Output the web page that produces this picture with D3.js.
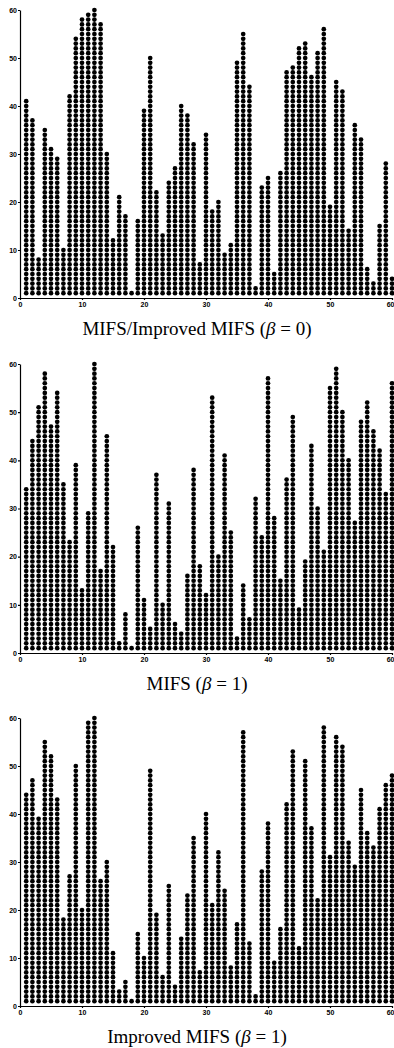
<!DOCTYPE html>
<html>
<head>
<meta charset="utf-8">
<script src="https://cdn.jsdelivr.net/npm/d3@7"></script>
<style>
  body { margin: 0; background: #fff; }
  .axis path, .axis line { stroke: #000; stroke-width: 1.2; }
  .axis text { font-family: 'Liberation Sans', Arial, sans-serif; font-weight: bold; font-size: 7px; fill: #000; }
  .title { font-family: 'Liberation Serif', 'Times New Roman', serif; font-size: 19px; fill: #000; }
</style>
</head>
<body>
<svg width="394" height="1048"></svg>
<script>
const xTicks = [0, 10, 20, 30, 40, 50, 60];
const yTicks = [0, 10, 20, 30, 40, 50, 60];

// selected-feature counts for columns 1..60
const beta0 = [41, 37, 8, 35, 31, 29, 10, 42, 54, 58, 59, 60, 57, 30, 12, 21, 17, 1, 16, 39,
  50, 22, 13, 24, 27, 40, 38, 32, 7, 34, 18, 20, 9, 11, 49, 55, 44, 2, 23, 25,
  5, 26, 47, 48, 52, 53, 46, 51, 56, 19, 45, 43, 14, 36, 33, 6, 3, 15, 28, 4];
const mifs1 = [34, 44, 51, 58, 47, 54, 35, 23, 39, 13, 29, 60, 17, 45, 22, 2, 8, 1, 26, 11,
  5, 37, 10, 31, 6, 4, 16, 38, 18, 12, 53, 20, 41, 25, 3, 14, 7, 32, 24, 57,
  28, 15, 36, 49, 9, 19, 43, 30, 21, 55, 59, 50, 40, 27, 48, 52, 46, 42, 33, 56];
const improved1 = [44, 47, 39, 55, 52, 43, 18, 27, 50, 20, 59, 60, 26, 30, 11, 3, 5, 1, 15, 10,
  49, 19, 6, 25, 4, 14, 23, 35, 7, 40, 21, 32, 24, 8, 17, 57, 13, 2, 28, 38,
  9, 16, 42, 53, 12, 51, 37, 22, 58, 31, 56, 54, 34, 29, 45, 36, 33, 41, 46, 48];

const panels = [
  {values: beta0, name: 'MIFS/Improved MIFS (', top: 10, bottom: 298},
  {values: mifs1, name: 'MIFS (', top: 364, bottom: 653},
  {values: improved1, name: 'Improved MIFS (', top: 718, bottom: 1006}
];
const betaVal = ['0', '1', '1'];

const svg = d3.select('svg');
svg.append('rect').attr('width', 394).attr('height', 1048).attr('fill', '#fff');

const x = d3.scaleLinear().domain([0, 60]).range([20, 392]);

panels.forEach((p, i) => {
  const y = d3.scaleLinear().domain([0, 60]).range([p.bottom, p.top]);
  const g = svg.append('g');

  // one dot per unit, stacked from 1 up to the column value
  const dots = [];
  p.values.forEach((v, c) => {
    for (let k = 1; k <= v; k++) dots.push({c: c + 1, k});
  });
  g.selectAll('circle')
    .data(dots)
    .enter().append('circle')
      .attr('cx', d => x(d.c))
      .attr('cy', d => y(d.k))
      .attr('r', 2.35)
      .attr('fill', '#000');

  g.append('g')
    .attr('class', 'axis')
    .attr('transform', `translate(${x(0)}, 0)`)
    .call(d3.axisLeft(y).tickValues(yTicks).tickSize(2).tickPadding(1).tickSizeOuter(0));

  const xa = g.append('g')
    .attr('class', 'axis')
    .attr('transform', `translate(0, ${p.bottom})`)
    .call(d3.axisBottom(x).tickValues(xTicks).tickSize(2).tickPadding(2).tickSizeOuter(0));
  // keep the last label inside the page
  xa.selectAll('.tick').filter(d => d === 60).select('text')
    .attr('text-anchor', 'end').attr('x', 2);

  const t = g.append('text')
    .attr('class', 'title')
    .attr('x', 197)
    .attr('y', p.bottom + 37)
    .attr('text-anchor', 'middle');
  t.append('tspan').text(p.name);
  t.append('tspan').attr('font-style', 'italic').text('β');
  t.append('tspan').text(' = ' + betaVal[i] + ')');
});
</script>
</body>
</html>
